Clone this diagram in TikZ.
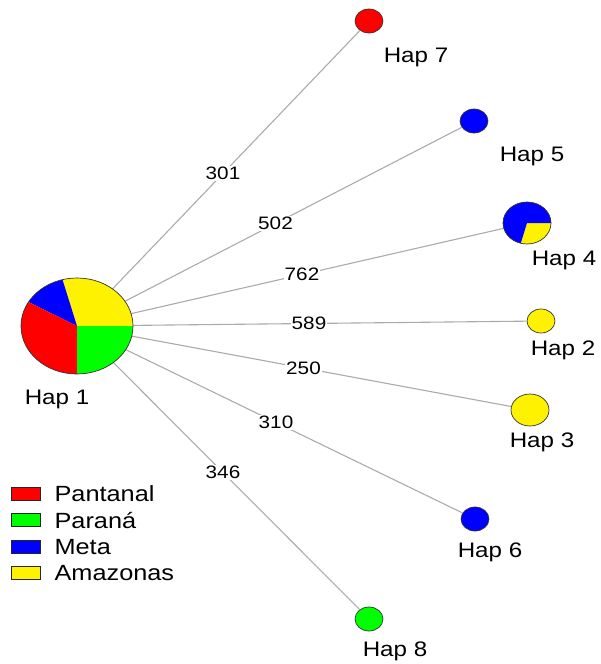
\documentclass[tikz,border=0pt]{standalone}
\usepackage{fontspec}
\setmainfont{Liberation Sans}
\usetikzlibrary{shapes}
\usetikzlibrary{positioning}
\usetikzlibrary{calc}

\newcommand{\wide}[1]{\scalebox{1.15}[1]{#1}}
\newcommand{\pieslice}[6]{\fill[#4] (#1.center) -- ++(#2:#5 and #6) arc[start angle=#2,end angle=#3,x radius=#5,y radius=#6] -- cycle;}

\begin{document}
\begin{tikzpicture}[x=1pt,y=-1pt,
  hap node/.style={ellipse,draw=black!80,line width=0.7pt,inner sep=0pt,minimum width=28pt,minimum height=24pt},
  pie node/.style={ellipse,inner sep=0pt},
  hap label/.style={font=\fontsize{21}{24}\selectfont,inner sep=0pt},
  edge label/.style={font=\fontsize{18}{20}\selectfont,fill=white,inner sep=1pt},
  link/.style={draw=black!33,line width=1.1pt},
  key box/.style={draw=black!85,line width=0.8pt,minimum width=29pt,minimum height=13pt,inner sep=0pt},
  key text/.style={font=\fontsize{22}{24}\selectfont,inner sep=0pt}]
  \useasboundingbox (0,0) rectangle (600,664);

  % haplotypes
  \node[pie node,minimum width=112pt,minimum height=96pt] (h1) at (77,326) {};
  \node[pie node,minimum width=48pt,minimum height=42pt] (h4) at (527,223) {};
  \node[hap node,fill=red] (h7) at (369,21) {};
  \node[hap node,fill=blue] (h5) at (474,121) {};
  \node[hap node,fill=yellow] (h2) at (541,321) {};
  \node[hap node,fill=yellow,minimum width=38pt,minimum height=32pt] (h3) at (530,410) {};
  \node[hap node,fill=blue] (h6) at (475,519) {};
  \node[hap node,fill=green] (h8) at (369,619) {};

  \foreach \t/\w in {h7/301,h5/502,h4/762,h2/589,h3/250,h6/310,h8/346}
    \draw[link] (h1) -- (\t) node[edge label] at ($(h1.center)!0.5!(\t.center)$) {\wide{\w}};

  % pies
  \pieslice{h1}{0}{-105}{yellow}{56}{48}
  \pieslice{h1}{-105}{-150}{blue}{56}{48}
  \pieslice{h1}{-150}{-270}{red}{56}{48}
  \pieslice{h1}{-270}{-360}{green}{56}{48}
  \draw[black!80,line width=0.7pt] (h1.center) ellipse [x radius=56,y radius=48];
  \pieslice{h4}{0}{105}{yellow}{24}{21}
  \pieslice{h4}{105}{360}{blue}{24}{21}
  \draw[black!80,line width=0.7pt] (h4.center) ellipse [x radius=24,y radius=21];

  % labels
  \node[hap label] (l1) at (57,399) {\wide{Hap 1}};
  \node[hap label] (l7) at (416,57) {\wide{Hap 7}};
  \node[hap label] (l5) at (532,156) {\wide{Hap 5}};
  \node[hap label] (l4) at (564,260) {\wide{Hap 4}};
  \node[hap label] (l2) at (563,350) {\wide{Hap 2}};
  \node[hap label] (l3) at (542,442) {\wide{Hap 3}};
  \node[hap label] (l6) at (490,552) {\wide{Hap 6}};
  \node[hap label] (l8) at (395,651) {\wide{Hap 8}};

  % legend
  \foreach \c/\n [count=\i] in {red/Pantanal,green/Paraná,blue/Meta,yellow/Amazonas}{
    \node[key box,fill=\c] (key\i) at (25.5,{494+26.3*(\i-1)}) {};
    \node[key text,right=14pt of key\i] (name\i) {\wide{\n}};
  }
\end{tikzpicture}
\end{document}
